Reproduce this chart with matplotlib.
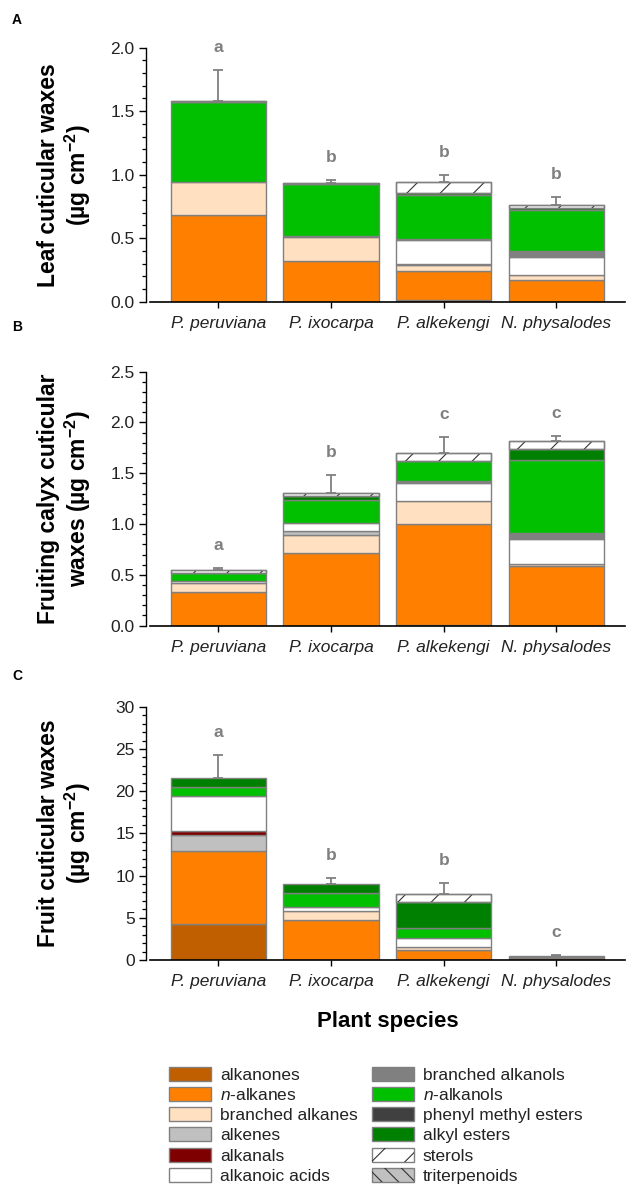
import numpy as np
import matplotlib
matplotlib.use("Agg")
import matplotlib.pyplot as plt
from matplotlib.patches import Patch
from matplotlib.ticker import MultipleLocator, FormatStrFormatter

plt.rcParams['font.family'] = ['Liberation Sans', 'DejaVu Sans']
plt.rcParams['mathtext.fontset'] = 'custom'
plt.rcParams['mathtext.rm'] = 'Liberation Sans'
plt.rcParams['mathtext.it'] = 'Liberation Sans:italic'
plt.rcParams['mathtext.bf'] = 'Liberation Sans:bold'
plt.rcParams['hatch.linewidth'] = 0.8

species = ["P. peruviana", "P. ixocarpa", "P. alkekengi", "N. physalodes"]

classes = ["alkanones", "$n$-alkanes", "branched alkanes", "alkenes", "alkanals",
           "alkanoic acids", "branched alkanols", "$n$-alkanols",
           "phenyl methyl esters", "alkyl esters", "sterols", "triterpenoids"]
class_colors = ["#BF5F00", "#FF8000", "#FFE0C0", "#C0C0C0", "#7F0000", "#FFFFFF",
                "#808080", "#00C000", "#404040", "#008000", "#FFFFFF", "#C0C0C0"]
class_hatch = [None] * 10 + ["/", "\\\\"]

# rows follow `classes`, columns follow `species`
leaf = [
    [0, 0, 0.010, 0],
    [0.683, 0.323, 0.234, 0.171],
    [0.257, 0.184, 0.043, 0.037],
    [0, 0, 0.008, 0],
    [0, 0, 0, 0],
    [0, 0, 0.191, 0.142],
    [0, 0.008, 0.010, 0.047],
    [0.630, 0.410, 0.344, 0.325],
    [0, 0, 0, 0],
    [0, 0, 0.016, 0.013],
    [0.013, 0.010, 0.084, 0.026],
    [0, 0, 0, 0],
]
leaf_sd = [0.242, 0.021, 0.060, 0.066]
leaf_letters = ["a", "b", "b", "b"]

calyx = [
    [0, 0, 0.010, 0],
    [0.335, 0.719, 0.988, 0.588],
    [0.082, 0.174, 0.232, 0.019],
    [0, 0.042, 0, 0],
    [0, 0, 0, 0],
    [0.020, 0.073, 0.178, 0.249],
    [0, 0, 0.012, 0.053],
    [0.085, 0.229, 0.204, 0.722],
    [0, 0, 0, 0],
    [0, 0.043, 0, 0.105],
    [0.026, 0.026, 0.079, 0.085],
    [0, 0, 0, 0],
]
calyx_sd = [0.017, 0.174, 0.151, 0.049]
calyx_letters = ["a", "b", "c", "c"]

fruit = [
    [4.22, 0, 0, 0],
    [8.69, 4.74, 1.18, 0.28],
    [0, 1.10, 0.40, 0],
    [1.89, 0, 0, 0],
    [0.48, 0, 0, 0],
    [4.18, 0.47, 1.06, 0],
    [0, 0, 0, 0.24],
    [1.07, 1.66, 1.11, 0],
    [0, 0, 0, 0],
    [1.06, 0.99, 3.08, 0],
    [0, 0, 0.99, 0],
    [0, 0, 0, 0],
]
fruit_sd = [2.65, 0.75, 1.34, 0.08]
fruit_letters = ["a", "b", "b", "c"]

EDGE = "#808080"
TXT = "#222222"

fig = plt.figure(figsize=(6.3, 11.89), dpi=100)
left, width = 150 / 630, 475 / 630
ax_a = fig.add_axes([left, 0.7463, width, 0.2136])
ax_b = fig.add_axes([left, 0.4738, width, 0.2136])
ax_c = fig.add_axes([left, 0.1926, width, 0.2130])


def stacked(ax, data, sd, letters, ymax, major, minor, fmt, ylabel):
    x = np.arange(len(species))
    data = np.array(data, dtype=float)
    bottom = np.zeros(len(species))
    for k in range(len(classes)):
        vals = data[k]
        m = vals > 0
        if m.any():
            ax.bar(x[m], vals[m], bottom=bottom[m], width=0.845, color=class_colors[k],
                   edgecolor=EDGE, linewidth=1.0, zorder=2)
            if class_hatch[k]:
                ax.bar(x[m], vals[m], bottom=bottom[m], width=0.845, facecolor="none",
                       edgecolor="#333333", linewidth=0, hatch=class_hatch[k], zorder=3)
                ax.bar(x[m], vals[m], bottom=bottom[m], width=0.845, fill=False,
                       edgecolor=EDGE, linewidth=1.0, zorder=3)
        bottom += vals
    ax.errorbar(x, bottom, yerr=[np.zeros(len(x)), sd], fmt="none", ecolor=EDGE,
                elinewidth=1.3, capsize=3.4, capthick=1.3, zorder=1)
    for xi, top, s, lab in zip(x, bottom, sd, letters):
        ax.annotate(lab, (xi, top + s), xytext=(0, 13), textcoords="offset points",
                    ha="center", va="baseline", fontsize=12.5, fontweight="bold",
                    color=EDGE)

    ax.set_xlim(-0.606, 3.608)
    ax.set_ylim(0, ymax)
    ax.set_xticks(x)
    ax.set_xticklabels(species, fontstyle="italic", fontsize=12.5, color=TXT)
    ax.yaxis.set_major_locator(MultipleLocator(major))
    ax.yaxis.set_minor_locator(MultipleLocator(minor))
    ax.yaxis.set_major_formatter(FormatStrFormatter(fmt))
    ax.tick_params(axis="y", which="major", direction="out", length=5, width=1,
                   labelsize=12.5, labelcolor=TXT, pad=3)
    ax.tick_params(axis="y", which="minor", direction="out", length=3, width=0.9)
    ax.tick_params(axis="x", direction="out", length=4, width=1, pad=6)
    for sp in ["top", "right"]:
        ax.spines[sp].set_visible(False)
    ax.spines["left"].set_position(("outward", 3))
    ax.spines["left"].set_linewidth(1.0)
    ax.spines["bottom"].set_linewidth(1.2)
    ax.set_ylabel(ylabel, fontsize=16.5, fontweight="bold", linespacing=1.1)
    ax.yaxis.set_label_coords(-0.12, 0.5)


stacked(ax_a, leaf, leaf_sd, leaf_letters, 2.0, 0.5, 0.1, "%.1f",
        "Leaf cuticular waxes\n(µg cm$^{\\mathbf{-2}}$)")
stacked(ax_b, calyx, calyx_sd, calyx_letters, 2.5, 0.5, 0.1, "%.1f",
        "Fruiting calyx cuticular\nwaxes (µg cm$^{\\mathbf{-2}}$)")
stacked(ax_c, fruit, fruit_sd, fruit_letters, 30, 5, 1, "%d",
        "Fruit cuticular waxes\n(µg cm$^{\\mathbf{-2}}$)")

ax_c.set_xlabel("Plant species", fontsize=16, fontweight="bold")
ax_c.xaxis.set_label_coords(0.5, -0.2)

for lab, yp in [("A", 19.5), ("B", 327), ("C", 676)]:
    fig.text(12 / 630, 1 - yp / 1189, lab, fontsize=10, fontweight="bold", va="center")

handles = []
for k in range(len(classes)):
    if class_hatch[k]:
        handles.append((Patch(facecolor=class_colors[k], edgecolor=EDGE, linewidth=1.0),
                        Patch(facecolor="none", edgecolor="#333333", linewidth=0,
                              hatch=class_hatch[k])))
    else:
        handles.append(Patch(facecolor=class_colors[k], edgecolor=EDGE, linewidth=1.0))

fig.legend(handles, classes, ncol=2, loc="upper left",
           bbox_to_anchor=(169 / 630, 1 - 1067 / 1189), frameon=False,
           borderaxespad=0, borderpad=0, fontsize=12.5, handlelength=2.41,
           handleheight=0.86, handletextpad=0.53, labelspacing=0.24,
           columnspacing=0.8, labelcolor=TXT)

fig.savefig("out.png", dpi=100)
